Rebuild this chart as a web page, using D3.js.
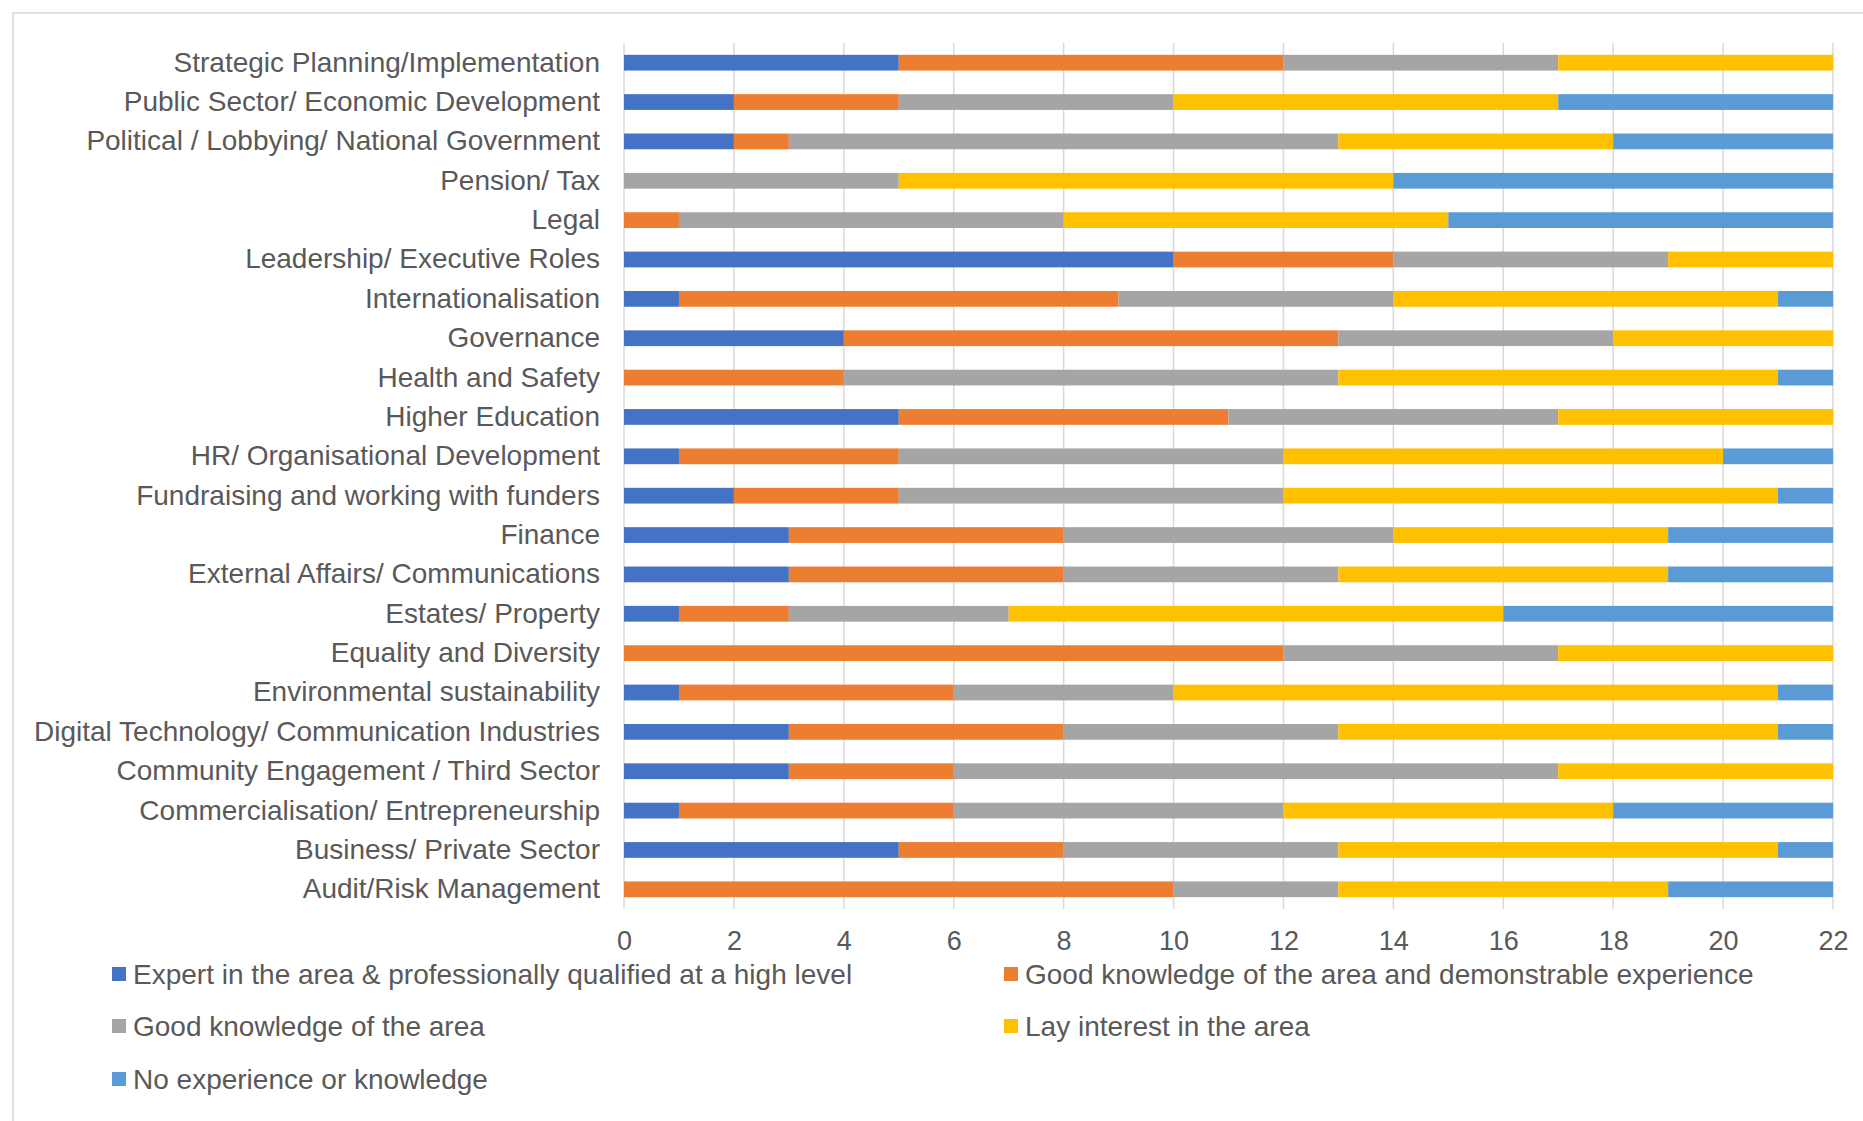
<!DOCTYPE html>
<html>
<head>
<meta charset="utf-8">
<script src="https://cdn.jsdelivr.net/npm/d3@7"></script>
<style>
  body { margin: 0; background: #fff; }
  svg text { font-family: "Liberation Sans", Arial, sans-serif; fill: #595959; }
</style>
</head>
<body>
<div id="chart"></div>
<script>
// categories, top to bottom as shown
var categories = [
  "Strategic Planning/Implementation",
  "Public Sector/ Economic Development",
  "Political / Lobbying/ National Government",
  "Pension/ Tax",
  "Legal",
  "Leadership/ Executive Roles",
  "Internationalisation",
  "Governance",
  "Health and Safety",
  "Higher Education",
  "HR/ Organisational Development",
  "Fundraising and working with funders",
  "Finance",
  "External Affairs/ Communications",
  "Estates/ Property",
  "Equality and Diversity",
  "Environmental sustainability",
  "Digital Technology/ Communication Industries",
  "Community Engagement / Third Sector",
  "Commercialisation/ Entrepreneurship",
  "Business/ Private Sector",
  "Audit/Risk Management"
];

var expert     = [5, 2, 2, 0, 0, 10, 1, 4, 0, 5, 1, 2, 3, 3, 1, 0, 1, 3, 3, 1, 5, 0];
var goodDemo   = [7, 3, 1, 0, 1, 4, 8, 9, 4, 6, 4, 3, 5, 5, 2, 12, 5, 5, 3, 5, 3, 10];
var good       = [5, 5, 10, 5, 7, 5, 5, 5, 9, 6, 7, 7, 6, 5, 4, 5, 4, 5, 11, 6, 5, 3];
var lay        = [5, 7, 5, 9, 7, 3, 7, 4, 8, 5, 8, 9, 5, 6, 9, 5, 11, 8, 5, 6, 8, 6];
var none       = [0, 5, 4, 8, 7, 0, 1, 0, 1, 0, 2, 1, 3, 3, 6, 0, 1, 1, 0, 4, 1, 3];

var seriesNames = [
  "Expert in the area & professionally qualified at a high level",
  "Good knowledge of the area and demonstrable experience",
  "Good knowledge of the area",
  "Lay interest in the area",
  "No experience or knowledge"
];
var seriesColors = ["#4472C4", "#ED7D31", "#A5A5A5", "#FFC000", "#5B9BD5"];
var xTicks = [0, 2, 4, 6, 8, 10, 12, 14, 16, 18, 20, 22];

var W = 1863, H = 1121;
var keys = ["expert", "goodDemo", "good", "lay", "none"];
var rows = categories.map(function (c, i) {
  return { cat: c, expert: expert[i], goodDemo: goodDemo[i], good: good[i], lay: lay[i], none: none[i] };
});

var svg = d3.select("#chart").append("svg").attr("width", W).attr("height", H);

// chart border (right and bottom fall outside the picture)
svg.append("rect").attr("x", 13).attr("y", 13).attr("width", W).attr("height", H)
  .attr("fill", "none").attr("stroke", "#d9d9d9").attr("stroke-width", 1.5);

var x = d3.scaleLinear().domain([0, 22]).range([624, 1833]);
var y = d3.scaleBand().domain(categories).range([43, 909]).paddingInner(0.6).paddingOuter(0.3);

// gridlines
svg.append("g").selectAll("line").data(xTicks).join("line")
  .attr("x1", function (d) { return x(d); }).attr("x2", function (d) { return x(d); })
  .attr("y1", 43).attr("y2", 909)
  .attr("stroke", "#d9d9d9").attr("stroke-width", 1.5);

var stacked = d3.stack().keys(keys)(rows);

svg.append("g").selectAll("g").data(stacked).join("g")
  .attr("fill", function (d, i) { return seriesColors[i]; })
  .selectAll("rect").data(function (d) { return d; }).join("rect")
  .attr("x", function (d) { return x(d[0]); })
  .attr("width", function (d) { return x(d[1]) - x(d[0]); })
  .attr("y", function (d) { return y(d.data.cat); })
  .attr("height", y.bandwidth());

// category labels
var yAxis = svg.append("g").attr("transform", "translate(624,0)")
  .call(d3.axisLeft(y).tickSize(0).tickPadding(24));
yAxis.select(".domain").remove();
yAxis.selectAll("text").attr("font-size", 28).attr("font-family", null).style("fill", "#595959");

// x tick labels
var xAxis = svg.append("g").attr("transform", "translate(0,925)")
  .call(d3.axisBottom(x).tickValues(xTicks).tickSize(0).tickPadding(6));
xAxis.select(".domain").remove();
xAxis.selectAll("text").attr("font-size", 27).attr("font-family", null).style("fill", "#595959");

// legend
var legendPos = [[112, 974], [1004, 974], [112, 1026], [1004, 1026], [112, 1079]];
var lg = svg.append("g").selectAll("g").data(seriesNames).join("g")
  .attr("transform", function (d, i) { return "translate(" + legendPos[i][0] + "," + legendPos[i][1] + ")"; });
lg.append("rect").attr("x", 0).attr("y", -7).attr("width", 14).attr("height", 14)
  .attr("fill", function (d, i) { return seriesColors[i]; });
lg.append("text").attr("x", 21).attr("dy", "0.35em").attr("font-size", 28).text(function (d) { return d; });
</script>
</body>
</html>
